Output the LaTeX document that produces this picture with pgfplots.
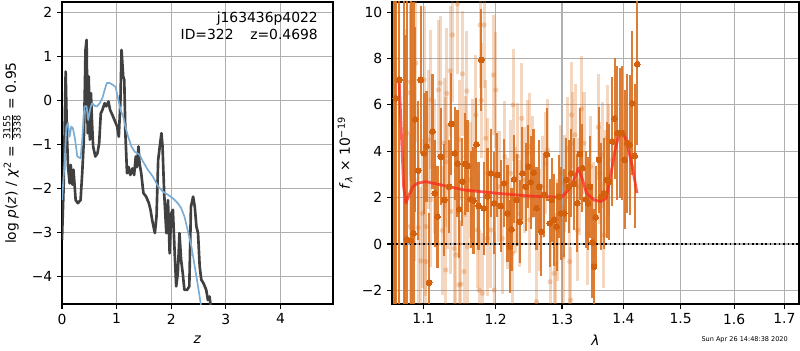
\documentclass[border=0pt]{standalone}
\usepackage{fontspec}
\usepackage{amsmath}
\setmainfont{DejaVu Sans}
\usepackage{pgfplots}
\usepackage{pgfplotstable}
\pgfplotsset{compat=1.18}
\definecolor{dorange}{RGB}{217,111,30}
\definecolor{dmark}{RGB}{210,96,12}
\definecolor{pzdark}{RGB}{64,64,64}
\definecolor{pzblue}{RGB}{122,172,212}
\definecolor{gridgray}{RGB}{176,176,176}
\definecolor{modelred}{RGB}{250,40,30}

\pgfplotstableread{
z y
0.00 -3.17
0.03 -1.96
0.05 -0.60
0.067 0.65
0.09 -0.75
0.11 -1.50
0.14 -1.89
0.16 -1.47
0.19 -1.92
0.21 -1.58
0.25 -2.27
0.29 -2.34
0.34 -2.27
0.37 -1.66
0.40 -0.90
0.42 0.39
0.43 1.14
0.45 1.37
0.47 -0.75
0.49 0.54
0.51 -0.90
0.53 0.16
0.55 -0.52
0.57 -1.05
0.61 -1.28
0.65 -1.20
0.68 -0.98
0.71 -0.30
0.74 -0.22
0.78 -0.07
0.81 -0.14
0.85 -0.03
0.88 -0.22
0.92 -0.33
0.96 -0.45
1.01 -0.60
1.04 -0.83
1.07 0.00
1.09 1.14
1.12 0.54
1.14 0.46
1.16 -0.75
1.19 -1.66
1.22 -1.52
1.25 -1.70
1.29 -1.55
1.32 -1.70
1.35 -1.28
1.37 -1.52
1.40 -1.05
1.42 -1.44
1.45 -1.66
1.49 -2.11
1.54 -2.19
1.59 -2.34
1.62 -2.49
1.65 -2.72
1.70 -3.02
1.73 -2.64
1.76 -1.36
1.79 -1.05
1.82 -0.75
1.84 -1.05
1.87 -2.11
1.89 -2.57
1.91 -3.02
1.94 -2.27
1.97 -3.48
2.00 -2.57
2.03 -2.49
2.06 -3.40
2.09 -4.23
2.12 -3.93
2.15 -3.02
2.18 -3.63
2.21 -3.93
2.24 -4.31
2.29 -4.31
2.33 -4.23
2.36 -2.42
2.40 -2.19
2.43 -2.42
2.46 -2.87
2.49 -3.02
2.52 -3.78
2.55 -4.08
2.59 -4.16
2.64 -4.31
2.67 -4.54
2.70 -4.46
2.73 -4.76
}\pzdata

\pgfplotstableread{
z y
0.00 -2.27
0.05 -1.36
0.08 -0.60
0.11 -0.52
0.14 -0.83
0.17 -0.60
0.20 -0.64
0.24 -0.90
0.28 -1.28
0.34 -1.32
0.37 -0.90
0.41 -0.14
0.45 -0.14
0.48 -0.45
0.52 -0.18
0.55 -0.07
0.60 -0.13
0.64 -0.14
0.69 -0.07
0.74 0.05
0.78 0.23
0.82 0.39
0.87 0.39
0.93 0.35
0.98 0.30
1.02 0.08
1.07 -0.22
1.12 -0.37
1.16 -0.60
1.21 -0.83
1.27 -1.05
1.33 -1.17
1.42 -1.24
1.48 -1.39
1.57 -1.58
1.66 -1.73
1.76 -1.96
1.85 -2.08
1.94 -2.15
2.03 -2.23
2.12 -2.34
2.18 -2.45
2.24 -2.64
2.30 -2.95
2.37 -3.33
2.43 -3.78
2.49 -4.23
2.54 -4.63
2.56 -4.84
}\pzbest

\pgfplotstableread{
x y e
1.0610 11.5 20
1.0625 -3.5 20
1.0639 6.29 20
1.0682 7.08 20
1.0740 11.0 15
1.0755 -3.0 12
1.0781 0.20 12
1.0833 0.14 11
1.0868 0.46 10
1.0890 5.38 4.0
1.0930 3.17 3.0
1.0965 7.08 3.2
1.1009 3.91 2.6
1.1040 4.20 2.4
1.1075 -1.67 3.0
1.1120 4.85 2.5
1.1151 2.19 2.3
1.1187 1.18 2.2
1.1232 3.77 2.1
1.1277 1.90 2.4
1.1346 2.47 2.0
1.1377 5.18 2.2
1.1423 3.91 2.0
1.1460 3.48 2.3
1.1483 1.50 2.1
1.1529 2.69 1.9
1.1566 3.45 2.2
1.1599 3.37 2.0
1.1645 1.93 2.1
1.1683 1.87 2.3
1.1725 4.30 2.0
1.1754 1.64 1.9
1.1796 7.94 2.2
1.1834 1.54 2.0
1.1882 2.04 2.1
1.1930 3.05 1.9
1.1978 1.76 2.2
1.2026 2.98 1.8
1.2074 1.64 2.0
1.2123 2.62 1.9
1.2172 1.32 2.1
1.2207 -0.12 2.0
1.2231 0.63 1.8
1.2270 2.79 1.9
1.2310 1.90 2.0
1.2354 0.96 1.8
1.2394 3.05 2.0
1.2444 2.47 1.9
1.2479 3.34 1.8
1.2519 2.66 2.0
1.2560 3.08 1.9
1.2605 1.54 1.8
1.2646 2.47 2.0
1.2681 0.53 1.9
1.2722 2.12 1.8
1.2763 3.86 2.0
1.2809 0.89 1.9
1.2840 1.90 1.8
1.2876 1.04 2.0
1.2917 0.75 1.9
1.2954 2.04 1.8
1.2980 1.32 2.0
1.3032 1.32 1.9
1.3069 2.76 1.8
1.3111 2.47 2.0
1.3147 3.05 1.9
1.3190 2.59 2.0
1.3243 1.76 2.1
1.3285 3.88 2.0
1.3322 3.27 1.9
1.3376 1.93 2.1
1.3413 1.76 2.0
1.3446 2.47 2.2
1.3483 0.06 2.4
1.3510 -0.98 2.5
1.3537 1.15 2.2
1.3592 3.63 2.3
1.3630 2.04 2.3
1.3674 2.19 2.4
1.3718 2.76 2.5
1.3757 2.69 2.5
1.3812 4.42 2.8
1.3851 5.42 2.6
1.3895 4.78 2.9
1.3940 4.78 2.8
1.3979 4.78 2.9
1.4019 3.63 3.0
1.4064 4.35 3.0
1.4103 4.27 3.0
1.4149 6.07 3.1
1.4189 3.80 3.1
1.4235 7.76 3.5
}\specdark

\pgfplotstableread{
x y e
1.0781 4.78 4.5
1.0825 6.99 4.0
1.0825 6.53 3.8
1.0825 0.75 4.0
1.0855 4.20 3.6
1.0877 2.76 3.5
1.0899 7.80 3.4
1.0930 0.71 3.3
1.0965 -0.73 3.2
1.0987 1.32 3.2
1.1009 7.08 3.2
1.1031 0.75 3.0
1.1031 -0.76 3.1
1.1062 4.49 3.0
1.1098 6.22 3.0
1.1098 1.90 2.9
1.1142 3.34 2.9
1.1201 6.65 3.0
1.1223 6.94 2.9
1.1255 0.58 2.8
1.1277 4.35 2.8
1.1300 3.55 2.8
1.1300 -1.12 2.9
1.1314 6.50 2.8
1.1323 2.47 2.7
1.1359 7.47 2.8
1.1368 1.40 2.7
1.1391 9.02 2.9
1.1414 -0.19 2.7
1.1437 -0.47 2.7
1.1460 10.35 3.0
1.1483 -1.77 2.8
1.1483 4.49 2.6
1.1506 -1.73 2.7
1.1529 7.34 2.7
1.1552 -1.19 2.6
1.1575 3.77 2.6
1.1590 6.60 2.6
1.1599 -0.12 2.6
1.1636 2.76 2.5
1.1669 3.77 2.5
1.1716 5.57 2.6
1.1739 0.60 2.5
1.1763 -1.99 2.6
1.1777 9.45 2.7
1.1796 6.19 2.5
1.1810 -2.13 2.6
1.1834 9.45 2.7
1.1858 4.56 2.5
1.1882 0.24 2.5
1.1882 3.05 2.4
1.1930 0.60 2.5
1.1968 7.29 2.6
1.1978 -1.99 2.5
1.2002 6.65 2.5
1.2048 2.47 2.4
1.2098 0.24 2.4
1.2133 3.77 2.4
1.2172 1.32 2.4
1.2221 3.05 2.3
1.2245 -0.40 2.4
1.2255 6.00 2.4
1.2294 1.90 2.3
1.2319 3.77 2.3
1.2344 1.32 2.3
1.2384 5.42 2.4
1.2419 2.76 2.3
1.2469 3.91 2.3
1.2494 4.20 2.3
1.2504 1.04 2.3
1.2544 3.34 2.2
1.2605 -2.49 2.4
1.2646 1.04 2.2
1.2697 2.47 2.2
1.2748 3.48 2.2
1.2774 4.06 2.2
1.2814 -1.63 2.3
1.2876 -1.27 2.3
1.2902 -0.86 2.2
1.2928 0.60 2.2
1.2980 3.05 2.1
1.3016 -0.55 2.2
1.3032 2.62 2.1
1.3084 4.13 2.2
1.3121 -0.76 2.2
1.3137 -2.42 2.3
1.3147 5.57 2.3
1.3163 4.35 2.2
1.3205 4.71 2.2
1.3243 0.60 2.2
1.3269 2.47 2.1
1.3307 5.83 2.3
1.3349 4.35 2.2
1.3403 0.42 2.2
1.3457 3.34 2.2
1.3510 1.32 2.2
1.3581 5.04 2.3
1.3608 3.05 2.2
1.3647 3.84 2.3
1.3674 0.39 2.3
1.3702 2.62 2.3
1.3729 4.56 2.3
1.3757 3.63 2.4
}\speclight

\pgfplotstableread{
x y
1.0682 7.08
1.0710 4.78
1.0740 2.47
1.0770 1.76
1.0800 2.04
1.0860 2.47
1.0920 2.62
1.1030 2.69
1.1230 2.55
1.1550 2.33
1.2010 2.19
1.2490 2.07
1.2740 2.04
1.2990 2.01
1.3100 2.33
1.3180 2.69
1.3260 3.27
1.3310 2.91
1.3390 2.19
1.3510 1.90
1.3620 1.83
1.3710 1.97
1.3770 2.76
1.3860 4.06
1.3930 4.78
1.3990 4.85
1.4060 4.35
1.4150 3.34
1.4230 2.19
}\model

\pgfplotsset{
  mpl/.style={
    scale only axis,
    anchor=south west,
    axis line style={line width=0.8pt},
    tick align=outside,
    tick pos=left,
    major tick length=3.5pt,
    tick style={line width=0.8pt, black},
    grid=major,
    grid style={line width=0.8pt, gridgray},
    ticklabel style={font=\fontsize{10}{12}\selectfont},
    /pgf/number format/assume math mode=true,
  }
}

\begin{document}
\begin{tikzpicture}
\useasboundingbox (0,0) rectangle (576pt,252pt);

\begin{axis}[mpl,
  at={(44.64pt,33.12pt)},
  width=195.12pt, height=217.44pt,
  xmin=0, xmax=4.96, ymin=-4.63, ymax=2.23,
  xtick={0,1,2,3,4}, xticklabels={0,1,2,3,4},
  ytick={-4,-3,-2,-1,0,1,2},
  yticklabels={−4,−3,−2,−1,0,1,2},
]
\addplot[pzdark, line width=1.9pt, line join=round] table[x=z,y=y] {\pzdata};
\addplot[pzblue, line width=1.2pt, line join=round] table[x=z,y=y] {\pzbest};
\node[anchor=east, inner sep=0pt, font=\fontsize{10}{12}\selectfont] at (rel axis cs:0.945,0.944) {j163436p4022};
\node[anchor=east, inner sep=0pt, font=\fontsize{10}{12}\selectfont] at (rel axis cs:0.945,0.894) {ID=322\hspace{12pt}z=0.4698};
\end{axis}

\begin{axis}[mpl,
  at={(282.24pt,33.12pt)},
  width=293.04pt, height=217.44pt,
  xmode=log,
  xmin=1.059, xmax=1.730, ymin=-2.59, ymax=10.44,
  xtick={1.1,1.2,1.3,1.4,1.5,1.6,1.7},
  xticklabels={1.1,1.2,1.3,1.4,1.5,1.6,1.7},
  minor xtick={},
  ytick={-2,0,2,4,6,8,10},
  yticklabels={−2,0,2,4,6,8,10},
]
\addplot[color=dorange, only marks, mark=*, mark size=1.9pt,
  mark options={solid, draw=dorange, fill=dorange, draw opacity=0, fill opacity=0.3},
  error bars/.cd, y dir=both, y explicit, error mark=none,
  error bar style={line width=2.2pt, draw=dorange, draw opacity=0.28, solid}]
  table[x=x, y=y, y error=e] {\speclight};
\addplot[color=dorange, only marks, mark=*, mark size=2.1pt,
  mark options={solid, draw=dmark, fill=dmark, line width=0pt},
  error bars/.cd, y dir=both, y explicit, error mark=none,
  error bar style={line width=1.5pt, draw=dorange, draw opacity=0.9, solid}]
  table[x=x, y=y, y error=e] {\specdark};
\addplot[modelred, line width=2pt, opacity=0.75, line join=round] table[x=x,y=y] {\model};
\addplot[black, line width=1.2pt, dash pattern=on 1.2pt off 2pt] coordinates {(1.059,0) (1.730,0)};
\end{axis}

\node[rotate=90, font=\fontsize{10}{12}\selectfont] at (8.6pt,141.8pt)
  {log \textit{p}(\textit{z}) / \textit{χ}\textsuperscript{2} = $\frac{\text{3155}}{\text{3338}}$ = 0.95};
\node[rotate=90, font=\fontsize{10}{12}\selectfont] at (248.4pt,141.8pt)
  {\textit{f}\textsubscript{\textit{λ}} × 10\textsuperscript{−19}};
\node[font=\fontsize{10}{12}\selectfont] at (142.2pt,7.2pt) {\textit{z}};
\node[font=\fontsize{10}{12}\selectfont] at (428.8pt,7.2pt) {\textit{λ}};
\node[anchor=east, inner sep=0pt, font=\fontsize{4.7}{5}\selectfont] at (567.4pt,7.2pt) {Sun Apr 26 14:48:38 2020};
\end{tikzpicture}
\end{document}
